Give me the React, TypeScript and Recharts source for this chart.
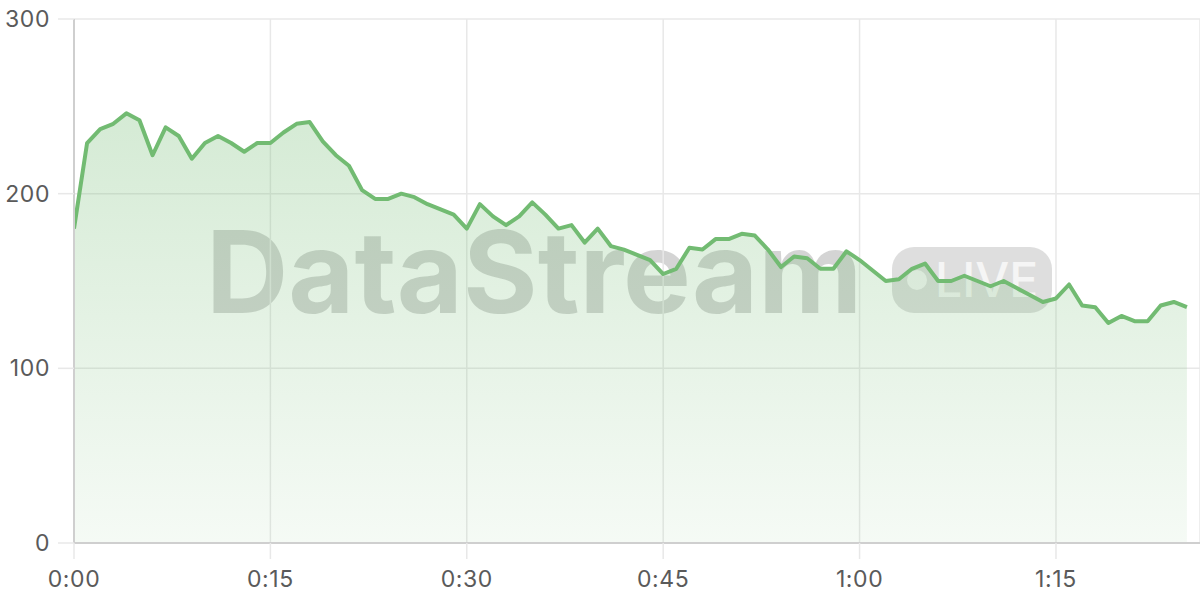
import React from "react";
import { AreaChart, Area, XAxis, YAxis, CartesianGrid } from "recharts";

const minutes = [
  0, 1, 2, 3, 4, 5, 6, 7, 8, 9, 10, 11, 12, 13, 14, 15, 16, 17, 18, 19, 20,
  21, 22, 23, 24, 25, 26, 27, 28, 29, 30, 31, 32, 33, 34, 35, 36, 37, 38, 39,
  40, 41, 42, 43, 44, 45, 46, 47, 48, 49, 50, 51, 52, 53, 54, 55, 56, 57, 58,
  59, 60, 61, 62, 63, 64, 65, 66, 67, 68, 69, 70, 71, 72, 73, 74, 75, 76, 77,
  78, 79, 80, 81, 82, 83, 84, 85,
];

const values = [
  180, 229, 237, 240, 246, 242, 222, 238, 233, 220, 229, 233, 229, 224, 229,
  229, 235, 240, 241, 230, 222, 216, 202, 197, 197, 200, 198, 194, 191, 188,
  180, 194, 187, 182, 187, 195, 188, 180, 182, 172, 180, 170, 168, 165, 162,
  154, 157, 169, 168, 174, 174, 177, 176, 168, 158, 164, 163, 157, 157, 167,
  162, 156, 150, 151, 157, 160, 150, 150, 153, 150, 147, 150, 146, 142, 138,
  140, 148, 136, 135, 126, 130, 127, 127, 136, 138, 135,
];

const xTicks = [0, 15, 30, 45, 60, 75];
const xTickLabels = ["0:00", "0:15", "0:30", "0:45", "1:00", "1:15"];
const yTicks = [0, 100, 200, 300];

const data = minutes.map((t, i) => ({ t, v: values[i] }));

const LINE = "#72bb72";
const GRID = "#e8e8e8";
const AXIS = "#cfcfcf";
const FONT = "Inter, 'Noto Sans', sans-serif";

export default function App() {
  return (
    <div
      style={{
        position: "absolute",
        left: 0,
        top: 0,
        width: 1200,
        height: 600,
        background: "#fff",
        overflow: "hidden",
      }}
    >
      {/* watermark behind chart */}
      <div
        style={{
          position: "absolute",
          left: 206,
          top: 202,
          fontFamily: FONT,
          fontWeight: 700,
          fontSize: 114,
          letterSpacing: 0,
          color: "rgba(0,0,0,0.17)",
          lineHeight: "140px",
          whiteSpace: "nowrap",
        }}
      >
        DataStream
      </div>
      <div
        style={{
          position: "absolute",
          left: 892,
          top: 247,
          width: 160,
          height: 66,
          borderRadius: 22,
          background: "rgba(0,0,0,0.13)",
        }}
      >
        <div
          style={{
            position: "absolute",
            left: 15,
            top: 23,
            width: 20,
            height: 20,
            borderRadius: 10,
            background: "rgba(255,255,255,0.72)",
          }}
        />
        <div
          style={{
            position: "absolute",
            left: 43,
            top: 0,
            height: 66,
            lineHeight: "66px",
            fontFamily: FONT,
            fontWeight: 500,
            fontSize: 48,
            color: "rgba(255,255,255,0.72)",
            whiteSpace: "nowrap",
          }}
        >
          LIVE
        </div>
      </div>
      <div style={{ position: "absolute", left: 0, top: 0 }}>
        <AreaChart
          width={1200}
          height={600}
          data={data}
          margin={{ top: 19, right: 0, left: 0, bottom: 0 }}
        >
          <defs>
            <linearGradient id="areaFill" x1="0" y1="0" x2="0" y2="1">
              <stop offset="0%" stopColor={LINE} stopOpacity={0.3} />
              <stop offset="100%" stopColor={LINE} stopOpacity={0.07} />
            </linearGradient>
          </defs>
          <CartesianGrid stroke={GRID} strokeWidth={1.5} />
          <XAxis
            dataKey="t"
            type="number"
            domain={[0, 86]}
            ticks={xTicks}
            tickFormatter={(v: number) => xTickLabels[xTicks.indexOf(v)] ?? ""}
            height={57}
            tickSize={16}
            tickMargin={12}
            axisLine={{ stroke: AXIS, strokeWidth: 2 }}
            tickLine={{ stroke: GRID, strokeWidth: 1.5 }}
            tick={{ fill: "#5a5a5a", fontSize: 23, fontFamily: FONT, letterSpacing: 0.6 }}
            allowDataOverflow
          />
          <YAxis
            type="number"
            domain={[0, 300]}
            ticks={yTicks}
            width={74}
            tickSize={16}
            tickMargin={8}
            axisLine={{ stroke: AXIS, strokeWidth: 2 }}
            tickLine={{ stroke: GRID, strokeWidth: 1.5 }}
            tick={{ fill: "#5a5a5a", fontSize: 23, fontFamily: FONT, letterSpacing: 0.6 }}
          />
          <Area
            type="linear"
            dataKey="v"
            stroke={LINE}
            strokeWidth={4}
            strokeLinejoin="round"
            fill="url(#areaFill)"
            fillOpacity={1}
            dot={false}
            activeDot={false}
            isAnimationActive={false}
          />
        </AreaChart>
      </div>
    </div>
  );
}
